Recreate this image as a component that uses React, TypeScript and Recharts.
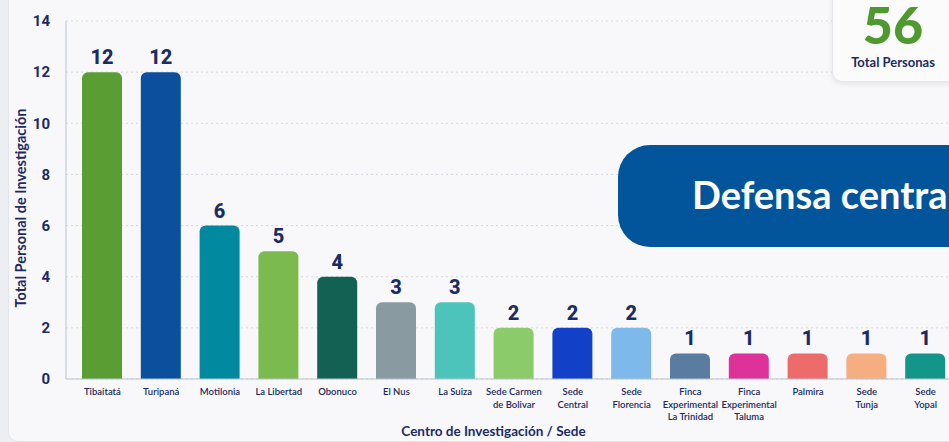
import { Bar, BarChart, CartesianGrid, Cell, LabelList, XAxis, YAxis } from "recharts";

const sedes = [
  "Tibaitatá",
  "Turipaná",
  "Motilonia",
  "La Libertad",
  "Obonuco",
  "El Nus",
  "La Suiza",
  "Sede Carmen de Bolivar",
  "Sede Central",
  "Sede Florencia",
  "Finca Experimental La Trinidad",
  "Finca Experimental Taluma",
  "Palmira",
  "Sede Tunja",
  "Sede Yopal",
];

const sedeLines = [
  ["Tibaitatá"],
  ["Turipaná"],
  ["Motilonia"],
  ["La Libertad"],
  ["Obonuco"],
  ["El Nus"],
  ["La Suiza"],
  ["Sede Carmen", "de Bolivar"],
  ["Sede", "Central"],
  ["Sede", "Florencia"],
  ["Finca", "Experimental", "La Trinidad"],
  ["Finca", "Experimental", "Taluma"],
  ["Palmira"],
  ["Sede", "Tunja"],
  ["Sede", "Yopal"],
];

const personas = [12, 12, 6, 5, 4, 3, 3, 2, 2, 2, 1, 1, 1, 1, 1];

const colores = [
  "#5a9e33",
  "#0b4f9d",
  "#00899f",
  "#7aba4f",
  "#126153",
  "#8a9aa1",
  "#4cc4bc",
  "#8bcb69",
  "#1241c7",
  "#7db9ea",
  "#5a7ca1",
  "#df319a",
  "#ee6b6b",
  "#f6ad80",
  "#12968a",
];

const yTicks = [0, 2, 4, 6, 8, 10, 12, 14];

const data = sedes.map((sede, i) => ({ sede, total: personas[i] }));

const navy = "#1c2b63";

function SedeTick({ x, y, index }: any) {
  const lines = sedeLines[index] ?? [];
  return (
    <text
      x={x}
      y={y}
      textAnchor="middle"
      fill={navy}
      fontSize={9.5}
      fontWeight={600}
      fontFamily="Lato, 'Open Sans', sans-serif"
    >
      {lines.map((l: string, i: number) => (
        <tspan key={i} x={x} dy={i === 0 ? 8 : 12.5}>
          {l}
        </tspan>
      ))}
    </text>
  );
}

function YTitle({ viewBox }: any) {
  const cx = 20;
  const cy = viewBox.y + viewBox.height / 2 + 8;
  return (
    <text
      x={cx}
      y={cy}
      transform={`rotate(-90 ${cx} ${cy})`}
      textAnchor="middle"
      dominantBaseline="central"
      fill={navy}
      fontSize={14.5}
      fontWeight={700}
      fontFamily="Lato, sans-serif"
    >
      Total Personal de Investigación
    </text>
  );
}

export default function App() {
  return (
    <div
      style={{
        position: "absolute",
        left: 0,
        top: 0,
        width: 949,
        height: 442,
        overflow: "hidden",
        background: "#eceef1",
        fontFamily: "Lato, sans-serif",
      }}
    >
      <div
        style={{
          position: "absolute",
          left: 8,
          top: -12,
          width: 960,
          height: 452,
          background: "#f8f8fa",
          border: "1px solid #e2e4e8",
          borderRadius: 10,
        }}
      />
      <div style={{ position: "absolute", left: 0, top: 0 }}>
        <BarChart
          width={956}
          height={442}
          data={data}
          margin={{ top: 21, right: 1, left: 15, bottom: 0 }}
        >
          <CartesianGrid vertical={false} stroke="#d3d8e0" strokeDasharray="2 3" />
          <XAxis
            dataKey="sede"
            interval={0}
            height={63}
            padding={{ left: 7, right: 0 }}
            tickLine={false}
            axisLine={{ stroke: "#b9c3d1" }}
            tick={<SedeTick />}
            label={{
              value: "Centro de Investigación / Sede",
              position: "insideBottom",
              offset: 6,
              dx: -17,
              style: { fill: navy, fontSize: 13.5, fontWeight: 700, fontFamily: "Lato, sans-serif" },
            }}
          />
          <YAxis
            width={51}
            domain={[0, 14]}
            ticks={yTicks}
            tickLine={false}
            tickMargin={10}
            axisLine={{ stroke: "#b9c3d1" }}
            tick={{ fill: navy, fontSize: 15, fontWeight: 700, fontFamily: "Roboto, sans-serif" }}
            label={<YTitle />}
          />
          <Bar dataKey="total" barSize={40} radius={[6, 6, 0, 0]} isAnimationActive={false}>
            {data.map((d, i) => (
              <Cell key={d.sede} fill={colores[i]} />
            ))}
            <LabelList
              dataKey="total"
              position="top"
              offset={8}
              style={{ fill: navy, fontSize: 20, fontWeight: 800, fontFamily: "Roboto, sans-serif" }}
            />
          </Bar>
        </BarChart>
      </div>
      <div
        style={{
          position: "absolute",
          left: 832,
          top: -12,
          width: 140,
          height: 92,
          background: "#fbfbfc",
          border: "1px solid #e4e6ea",
          borderRadius: 10,
          boxShadow: "0 2px 6px rgba(0,0,0,0.08)",
        }}
      />
      <div
        style={{
          position: "absolute",
          left: 853,
          width: 80,
          top: 2,
          textAlign: "center",
          color: "#4f9a2f",
          fontSize: 52,
          fontWeight: 900,
          lineHeight: "44px",
        }}
      >
        56
      </div>
      <div
        style={{
          position: "absolute",
          left: 838,
          width: 110,
          top: 54,
          textAlign: "center",
          color: navy,
          fontSize: 13,
          fontWeight: 700,
          lineHeight: "16px",
        }}
      >
        Total Personas
      </div>
      <div
        style={{
          position: "absolute",
          left: 618,
          top: 145,
          width: 400,
          height: 102,
          background: "#02559a",
          borderRadius: 32,
        }}
      >
        <div
          style={{
            position: "absolute",
            left: 74,
            top: 26,
            color: "#ffffff",
            fontSize: 38,
            fontWeight: 700,
            whiteSpace: "nowrap",
            lineHeight: "46px",
          }}
        >
          Defensa central
        </div>
      </div>
    </div>
  );
}
